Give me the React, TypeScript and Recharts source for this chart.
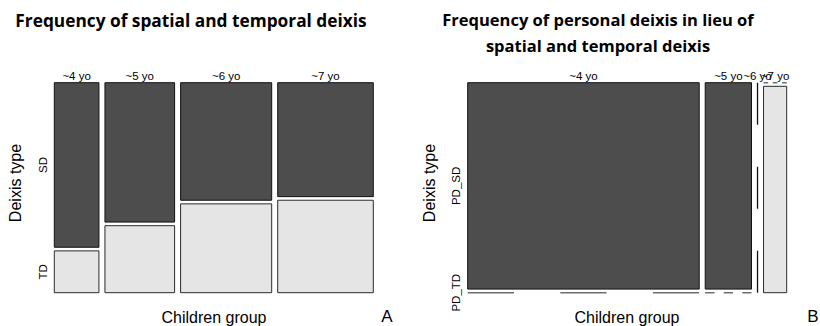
import React from 'react';
import { ComposedChart, XAxis, YAxis, ReferenceArea, ReferenceLine } from 'recharts';

// counts per age group (columns) and deixis type (rows)
const groups = ['~4 yo', '~5 yo', '~6 yo', '~7 yo'];
const sdCounts = [118, 156, 172, 175];
const tdCounts = [30, 75, 130, 142];
const pdSdCounts = [30, 6, 0, 0];
const pdTdCounts = [0, 0, 0, 3];
const leftRows = ['SD', 'TD'];
const rightRows = ['PD_SD', 'PD_TD'];

const DARK = '#4d4d4d';
const LIGHT = '#e5e5e5';
const GAP_X = 0.02;
const GAP_Y = 0.0175;
const X_MAX = 1 + GAP_X * (groups.length - 1);
const Y_MAX = 1 + GAP_Y;
const W = 410;
const H = 326;
const FONT = '"Liberation Sans", Arial, sans-serif';

type Cell = { group: string; x0: number; x1: number; split: number; total: number; top: number; bottom: number };

function buildCells(top: number[], bottom: number[]): Cell[] {
  const totals = top.map((t, i) => t + bottom[i]);
  const grand = totals.reduce((a, b) => a + b, 0);
  let cursor = 0;
  return groups.map((group, i) => {
    const w = totals[i] / grand;
    const cell = {
      group,
      x0: cursor,
      x1: cursor + w,
      split: totals[i] ? bottom[i] / totals[i] : 0,
      total: totals[i],
      top: top[i],
      bottom: bottom[i],
    };
    cursor += w + GAP_X;
    return cell;
  });
}

interface MosaicProps {
  cells: Cell[];
  rows: string[];
  margin: { top: number; right: number; bottom: number; left: number };
}

function Mosaic({ cells, rows, margin }: MosaicProps) {
  const plotW = W - margin.left - margin.right;
  const plotH = H - margin.top - margin.bottom;
  const pxX = plotW / X_MAX;
  const zeroStyle = { stroke: '#6e6e6e', strokeWidth: 1.6 };
  const marks: React.ReactNode[] = [];

  cells.forEach((c, i) => {
    if (c.total === 0) {
      const d = plotH / 5;
      marks.push(
        <ReferenceLine
          key={`z-${i}`}
          segment={[{ x: c.x0, y: 0 }, { x: c.x0, y: Y_MAX }]}
          stroke="#111"
          strokeWidth={1.3}
          strokeDasharray={`${d} ${d}`}
        />
      );
      return;
    }
    const d = ((c.x1 - c.x0) * pxX) / 5;
    if (c.bottom > 0) {
      marks.push(
        <ReferenceArea key={`b-${i}`} x1={c.x0} x2={c.x1} y1={0} y2={c.split} fill={LIGHT} fillOpacity={1} stroke="#2a2a2a" strokeWidth={1} />
      );
    } else {
      marks.push(
        <ReferenceLine key={`b-${i}`} segment={[{ x: c.x0, y: 0 }, { x: c.x1, y: 0 }]} {...zeroStyle} strokeDasharray={`${d} ${d}`} />
      );
    }
    if (c.top > 0) {
      marks.push(
        <ReferenceArea key={`t-${i}`} x1={c.x0} x2={c.x1} y1={c.split + GAP_Y} y2={Y_MAX} fill={DARK} fillOpacity={1} stroke="#111" strokeWidth={1} />
      );
    } else {
      marks.push(
        <ReferenceLine key={`t-${i}`} segment={[{ x: c.x0, y: Y_MAX }, { x: c.x1, y: Y_MAX }]} {...zeroStyle} strokeDasharray={`${d} ${d}`} />
      );
    }
  });

  const colLabels = cells.map((c, i) => (
    <ReferenceLine
      key={`cl-${i}`}
      x={(c.x0 + c.x1) / 2}
      stroke="none"
      label={(p: any) => (
        <text x={p.viewBox.x} y={p.viewBox.y - 6.5} textAnchor="middle" dominantBaseline="central" fontSize={11.5} fontFamily={FONT} fill="#000">
          {c.group}
        </text>
      )}
    />
  ));

  const first = cells[0];
  const rowCenters = [(first.split + GAP_Y + Y_MAX) / 2, first.split / 2];
  const rowLabels = rows.map((r, i) => (
    <ReferenceLine
      key={`rl-${i}`}
      y={rowCenters[i]}
      stroke="none"
      label={(p: any) => {
        const x = p.viewBox.x - 11.5;
        const y = p.viewBox.y;
        return (
          <text x={x} y={y} transform={`rotate(-90 ${x} ${y})`} textAnchor="middle" dominantBaseline="central" fontSize={11.5} fontFamily={FONT} fill="#000">
            {r}
          </text>
        );
      }}
    />
  ));

  return (
    <ComposedChart width={W} height={H} margin={margin} data={cells}>
      <XAxis type="number" dataKey="x0" domain={[0, X_MAX]} hide allowDataOverflow />
      <YAxis type="number" dataKey="split" domain={[0, Y_MAX]} hide allowDataOverflow />
      {marks}
      {colLabels}
      {rowLabels}
    </ComposedChart>
  );
}

export default function App() {
  const leftCells = buildCells(sdCounts, tdCounts);
  const rightCells = buildCells(pdSdCounts, pdTdCounts);
  const leftMargin = { top: 82.7, right: 36.7, bottom: 33.3, left: 54.3 };
  const rightMargin = { top: 82.7, right: 33.3, bottom: 33.3, left: 57.7 };
  const titleFont = '"Open Sans", Lato, sans-serif';

  return (
    <div style={{ position: 'absolute', left: 0, top: 0, width: 820, height: 326, background: '#fff' }}>
      <div style={{ position: 'absolute', left: 0, top: 0 }}>
        <Mosaic cells={leftCells} rows={leftRows} margin={leftMargin} />
      </div>
      <div style={{ position: 'absolute', left: 410, top: 0 }}>
        <Mosaic cells={rightCells} rows={rightRows} margin={rightMargin} />
      </div>
      <svg width={820} height={326} style={{ position: 'absolute', left: 0, top: 0, pointerEvents: 'none' }}>
        <g fontFamily={titleFont} fontWeight={700} fill="#000" textAnchor="middle">
          <text x={191} y={20} fontSize={17.3} dominantBaseline="central">Frequency of spatial and temporal deixis</text>
          <text x={598} y={19} fontSize={16.5} dominantBaseline="central">Frequency of personal deixis in lieu of</text>
          <text x={598} y={45} fontSize={16.5} dominantBaseline="central">spatial and temporal deixis</text>
        </g>
        <g fontFamily={FONT} fontSize={16} fill="#000" textAnchor="middle">
          <text x={214} y={317} dominantBaseline="central">Children group</text>
          <text x={627} y={317} dominantBaseline="central">Children group</text>
          <text x={15} y={183} transform="rotate(-90 15 183)" dominantBaseline="central">Deixis type</text>
          <text x={429} y={183} transform="rotate(-90 429 183)" dominantBaseline="central">Deixis type</text>
          <text x={387} y={316} fontSize={17} dominantBaseline="central">A</text>
          <text x={813} y={316} fontSize={17} dominantBaseline="central">B</text>
        </g>
      </svg>
    </div>
  );
}
